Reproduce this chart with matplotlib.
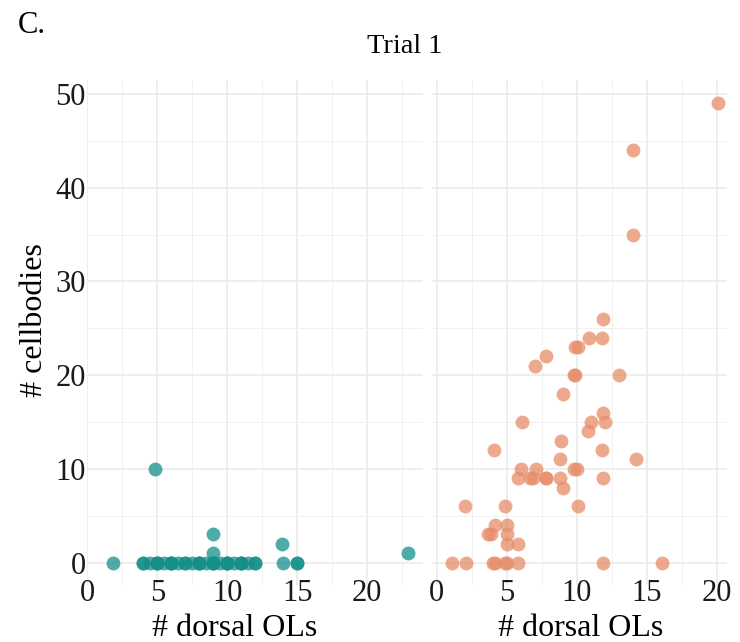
import matplotlib.pyplot as plt
from matplotlib.ticker import MultipleLocator

plt.rcParams['font.family'] = ['Liberation Serif', 'DejaVu Serif']

# trial 1, first group (teal)
g1_ols = [1.8, 4, 4, 4.5, 5, 5, 5, 5.5, 6, 6, 6, 6.5, 7, 7, 7.5, 8, 8, 8, 8.5,
          9, 9, 9, 9.5, 10, 10, 10, 10.5, 11, 11, 11, 11.5, 12, 12, 14, 15, 15,
          4.8, 9, 9, 13.9, 22.9]
g1_cells = [0, 0, 0, 0, 0, 0, 0, 0, 0, 0, 0, 0, 0, 0, 0, 0, 0, 0, 0,
            0, 0, 0, 0, 0, 0, 0, 0, 0, 0, 0, 0, 0, 0, 0, 0, 0,
            10, 3, 1, 2, 1]

# trial 1, second group (salmon)
g2_ols = [11.9, 10.9, 11.8, 9.9, 10.1, 7.8, 7.0, 9.8, 9.9, 13.0, 9.0, 11.9,
          6.1, 11.0, 12.0, 10.8, 8.9, 4.1, 11.8, 8.8, 14.2, 6.0, 7.1, 9.8,
          10.0, 5.8, 6.7, 6.9, 7.8, 7.8, 8.8, 11.9, 9.0, 2.0, 4.9, 10.1,
          4.2, 5.0, 3.7, 3.9, 5.0, 5.0, 5.8, 1.1, 2.1, 4.0, 4.2, 4.9, 5.0,
          5.8, 11.9, 16.1, 20.1, 14.0, 14.0]
g2_cells = [26, 24, 24, 23, 23, 22, 21, 20, 20, 20, 18, 16,
            15, 15, 15, 14, 13, 12, 12, 11, 11, 10, 10, 10,
            10, 9, 9, 9, 9, 9, 9, 9, 8, 6, 6, 6,
            4, 4, 3, 3, 3, 2, 2, 0, 0, 0, 0, 0, 0,
            0, 0, 0, 49, 44, 35]

fig = plt.figure(figsize=(7.4, 6.42), dpi=100)
ax1 = fig.add_axes([0.118, 0.0888, 0.4532, 0.7866])
ax2 = fig.add_axes([0.5842, 0.0888, 0.3978, 0.7866])

ax1.scatter(g1_ols, g1_cells, s=100, color='#148f8a', alpha=0.75, linewidths=0, zorder=3)
ax2.scatter(g2_ols, g2_cells, s=100, color='#e78c68', alpha=0.75, linewidths=0, zorder=3)

ax1.set_xlim(0, 23.96)
ax2.set_xlim(-0.31, 20.71)

for ax in (ax1, ax2):
    ax.set_ylim(-2.4, 51.5)
    ax.xaxis.set_major_locator(MultipleLocator(5))
    ax.xaxis.set_minor_locator(MultipleLocator(2.5))
    ax.yaxis.set_major_locator(MultipleLocator(10))
    ax.yaxis.set_minor_locator(MultipleLocator(5))
    ax.grid(which='major', color='#ebebeb', linewidth=1.2)
    ax.grid(which='minor', color='#f1f1f1', linewidth=0.7)
    ax.set_axisbelow(True)
    for s in ax.spines.values():
        s.set_visible(False)
    ax.tick_params(which='both', length=0, labelsize=22, colors='#1a1a1a')
    ax.tick_params(axis='x', pad=-4)
    ax.tick_params(axis='y', pad=1)

ax2.tick_params(axis='y', labelleft=False)

fig.text(18 / 740, 1 - 33 / 642, 'C.', fontsize=22, ha='left', va='baseline')
fig.text(405 / 740, 1 - 53 / 642, 'Trial 1', fontsize=20.5, ha='center', va='baseline')
fig.text(35 / 740, 1 - 320 / 642, '# cellbodies', fontsize=23, rotation=90,
         ha='center', va='center')
fig.text(235 / 740, 1 - 636 / 642, '# dorsal OLs', fontsize=23, ha='center', va='baseline')
fig.text(581 / 740, 1 - 636 / 642, '# dorsal OLs', fontsize=23, ha='center', va='baseline')

fig.savefig('out.png', dpi=100)
